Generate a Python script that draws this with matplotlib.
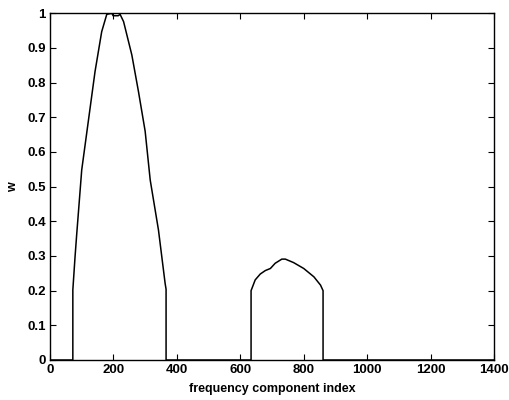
import matplotlib
matplotlib.use("Agg")
import matplotlib.pyplot as plt
from matplotlib.ticker import FuncFormatter

# breakpoints of the weight curve
freq_index = [0, 72, 72, 79, 84, 100, 121, 142, 163, 179, 195, 199, 215, 221, 232,
              258, 279, 300, 316, 342, 363, 366, 366, 634, 634, 647, 663, 679, 695,
              710, 731, 742, 768, 800, 832, 853, 861, 861, 1400]
weight = [0, 0, 0.202, 0.298, 0.36, 0.548, 0.69, 0.832, 0.947, 0.997, 1.0, 0.993,
          0.993, 0.997, 0.976, 0.88, 0.774, 0.66, 0.519, 0.375, 0.221, 0.204, 0,
          0, 0.2, 0.231, 0.248, 0.258, 0.264, 0.279, 0.291, 0.291, 0.281, 0.264,
          0.24, 0.216, 0.2, 0, 0]

x_ticks = [0, 200, 400, 600, 800, 1000, 1200, 1400]
y_ticks = [0, 0.1, 0.2, 0.3, 0.4, 0.5, 0.6, 0.7, 0.8, 0.9, 1.0]

plt.rcParams["font.family"] = ["Liberation Sans", "DejaVu Sans"]
plt.rcParams["font.weight"] = "bold"

fig = plt.figure(figsize=(5.09, 4.00), dpi=100)
ax = fig.add_axes([50 / 509, 40 / 400, 444 / 509, 346.7 / 400])
ax.plot(freq_index, weight, color="black", linewidth=1.1)

ax.set_xlim(0, 1400)
ax.set_ylim(0, 1)
ax.set_xticks(x_ticks)
ax.set_yticks(y_ticks)
ax.yaxis.set_major_formatter(FuncFormatter(lambda v, _: f"{v:g}"))
ax.tick_params(direction="in", top=True, right=True, length=4, width=0.8,
               labelsize=9.5, colors="black", pad=3)
for spine in ax.spines.values():
    spine.set_linewidth(1.0)

ax.set_xlabel("frequency component index", fontsize=9, fontweight="bold", labelpad=5)
ax.set_ylabel("w", fontsize=9, fontweight="bold", labelpad=6)

fig.savefig("out.png", dpi=100)
